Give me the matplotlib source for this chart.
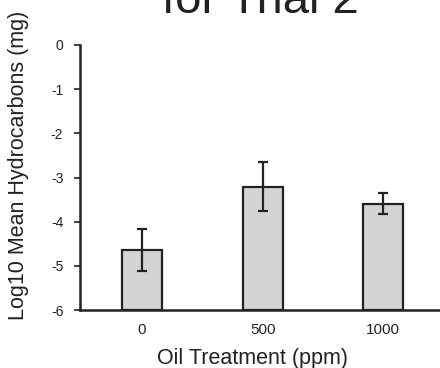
import numpy as np
import matplotlib
matplotlib.use('Agg')
import matplotlib.pyplot as plt

# Hydrocarbon data, trial 2 (log10 of mean mass in mg).
treatments = ['0', '500', '1000']
log_means = [-4.64, -3.21, -3.60]
err_up = [0.48, 0.56, 0.25]
err_down = [0.47, 0.55, 0.22]

plt.rcParams['font.family'] = ['Liberation Sans', 'DejaVu Sans']
ink = '#222222'

fig = plt.figure(figsize=(4.4, 3.68), dpi=100)
ax = fig.add_axes([80 / 440., 1 - 310 / 368., 360 / 440., 265 / 368.])

base = -6
x = np.arange(len(treatments))
heights = [m - base for m in log_means]
ax.bar(x, heights, width=0.33, bottom=base, color='#d4d4d4',
       edgecolor=ink, linewidth=1.6, zorder=2)
ax.errorbar(x, log_means, yerr=[err_down, err_up], fmt='none',
            ecolor=ink, elinewidth=1.6, capsize=3.5, capthick=1.6, zorder=3)

ax.set_xlim(-0.515, 2.47)
ax.set_ylim(-6, 0)
ax.set_yticks(np.arange(-6, 1, 1))
ax.set_yticklabels([str(v) for v in range(-6, 1)])
ax.set_xticks(x)
ax.set_xticklabels(treatments)

for side in ['top', 'right']:
    ax.spines[side].set_visible(False)
for side in ['left', 'bottom']:
    ax.spines[side].set_linewidth(1.8)
    ax.spines[side].set_color(ink)

ax.tick_params(axis='y', direction='out', length=4, width=1.2, colors=ink,
               labelsize=10, pad=8)
ax.tick_params(axis='x', length=0, colors=ink, labelsize=11, pad=9)

ax.set_xlabel('Oil Treatment (ppm)', fontsize=15.5, color=ink, labelpad=8)
ax.set_ylabel('Log10 Mean Hydrocarbons (mg)', fontsize=15.5, color=ink,
              labelpad=16)
ax.xaxis.label.set_x(0.48)
ax.yaxis.label.set_y(0.547)

# second line of the title, its top running off the page
fig.text(260 / 440., 1 - 13 / 368., 'for Trial 2', fontsize=34, color=ink,
         ha='center', va='baseline')

fig.savefig('out.png', dpi=100)
